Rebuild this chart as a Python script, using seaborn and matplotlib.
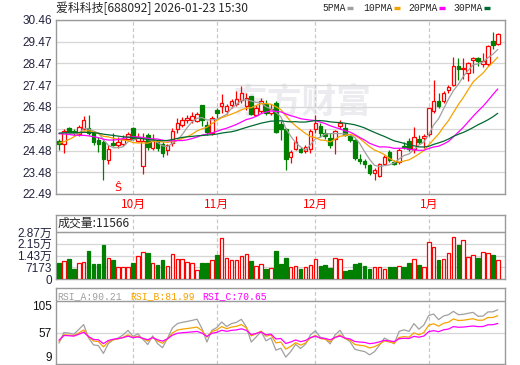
import numpy as np
import pandas as pd
import matplotlib
matplotlib.use('Agg')
import matplotlib.pyplot as plt
import seaborn as sns
from matplotlib.lines import Line2D

# ---- values ----
title = '爱科科技[688092] 2026-01-23 15:30'

# closes before the visible window (only needed to warm up the moving averages)
prior_close = [25.0, 25.2, 25.4, 25.3, 25.5, 25.4, 25.3, 25.5, 25.4, 25.4,
               25.6, 25.8, 25.9, 25.7, 25.9, 25.8, 25.6, 25.7, 25.5, 25.3,
               24.8, 24.3, 24.1, 24.2, 24.55, 25.1, 25.5, 25.4, 25.47]

open_ = [24.90, 24.78, 25.50, 25.38, 25.22, 25.45, 25.50, 25.30, 24.95, 24.85,
         24.05, 24.82, 24.75, 24.78, 25.02, 25.50, 24.90, 23.78, 25.20, 24.60,
         24.90, 24.80, 24.50, 24.82, 25.45, 25.65, 25.86, 25.90, 25.85, 26.55,
         25.65, 25.30, 26.35, 26.50, 26.30, 26.55, 26.60, 26.80, 26.52, 26.96,
         26.13, 26.30, 26.62, 26.22, 26.68, 25.70, 25.45, 24.20, 24.55, 24.55,
         24.48, 24.55, 25.45, 25.60, 25.28, 25.05, 25.02, 25.60, 25.50, 25.15,
         24.95, 24.08, 24.00, 23.80, 23.45, 23.32, 23.87, 24.42, 23.95, 23.95,
         24.70, 24.92, 24.56, 25.00, 25.06, 25.22, 26.28, 26.77, 26.77, 27.24,
         27.50, 28.36, 28.20, 28.05, 28.62, 28.74, 28.45, 28.45, 29.48, 29.35]
high = [25.02, 25.45, 25.58, 25.45, 25.65, 26.08, 26.10, 25.38, 25.10, 24.95,
        24.75, 25.30, 25.10, 25.20, 25.35, 25.58, 25.28, 25.28, 25.30, 25.25,
        24.98, 24.85, 24.80, 25.50, 25.95, 26.00, 26.10, 26.25, 26.25, 26.55,
        25.85, 26.05, 26.45, 27.05, 26.60, 26.85, 27.20, 27.43, 27.10, 27.00,
        26.55, 26.90, 26.80, 26.60, 26.75, 25.85, 25.50, 24.52, 25.15, 24.65,
        24.75, 25.45, 26.10, 25.75, 25.45, 25.30, 25.42, 25.90, 25.75, 25.25,
        25.00, 24.30, 24.10, 23.85, 23.70, 23.90, 24.28, 24.52, 24.05, 24.60,
        24.85, 25.05, 25.55, 25.20, 25.25, 26.45, 27.70, 27.10, 27.20, 27.50,
        28.77, 28.74, 28.74, 28.55, 28.77, 28.77, 28.97, 29.32, 29.89, 29.85]
low = [24.50, 24.38, 25.30, 25.20, 25.15, 25.40, 25.20, 24.75, 24.40, 23.14,
       23.85, 24.67, 24.60, 24.70, 24.95, 24.95, 24.85, 23.40, 24.50, 24.50,
       24.45, 24.18, 24.29, 24.70, 25.30, 25.55, 25.75, 25.75, 25.80, 25.60,
       25.20, 25.20, 25.95, 26.20, 26.15, 26.45, 26.50, 26.67, 26.35, 26.10,
       26.05, 26.20, 26.10, 26.10, 25.30, 24.95, 23.60, 23.90, 24.50, 24.35,
       24.35, 24.35, 25.30, 25.10, 25.00, 24.60, 24.30, 25.45, 25.15, 24.85,
       24.05, 23.85, 23.70, 23.38, 23.13, 23.28, 23.83, 23.95, 23.80, 23.85,
       24.55, 24.45, 24.36, 24.78, 24.60, 25.15, 26.20, 26.45, 26.68, 27.13,
       27.44, 27.70, 27.75, 27.67, 28.05, 28.35, 28.30, 28.36, 29.12, 29.30]
close = [24.78, 25.38, 25.35, 25.30, 25.55, 25.87, 25.30, 24.85, 24.80, 24.10,
         24.55, 24.75, 24.85, 25.00, 25.25, 25.00, 25.12, 24.90, 24.65, 24.98,
         24.60, 24.35, 24.72, 25.36, 25.75, 25.88, 25.96, 26.05, 26.15, 25.90,
         25.35, 25.98, 26.18, 26.68, 26.50, 26.74, 26.85, 27.12, 26.88, 26.15,
         26.42, 26.75, 26.22, 26.38, 25.35, 25.45, 24.10, 24.42, 24.88, 24.40,
         24.66, 25.36, 25.75, 25.28, 25.15, 24.75, 25.36, 25.75, 25.20, 24.95,
         24.15, 23.98, 23.86, 23.45, 23.58, 23.85, 24.20, 24.05, 23.87, 24.52,
         24.62, 24.56, 25.09, 24.88, 25.16, 26.41, 26.74, 26.50, 27.13, 27.39,
         28.35, 28.20, 28.28, 28.50, 28.70, 28.58, 28.60, 29.27, 29.30, 29.80]
volume = [10000, 11000, 12300, 6100, 10000, 10400, 17200, 9200, 9200, 20800,
          12700, 11600, 7600, 7200, 7200, 10000, 14100, 16600, 15800, 10000,
          8600, 11600, 8000, 15300, 12100, 12100, 10600, 10000, 5500, 10000,
          10000, 11600, 14700, 25100, 13100, 11600, 11600, 14100, 15500, 11000,
          8000, 9200, 6100, 6500, 17200, 9200, 12700, 7200, 8000, 5900,
          7600, 8400, 12100, 8000, 8600, 6500, 12700, 12100, 4900, 5500,
          9200, 9600, 8000, 6100, 7600, 7600, 5900, 7200, 7200, 8200,
          7600, 9600, 12100, 8600, 7200, 22500, 19400, 11600, 12100, 15800,
          25600, 20800, 23700, 13300, 14500, 12700, 16400, 15800, 14700, 11566]

# trading days shown per month: Sep, Oct, Nov, Dec, Jan
days_per_month = [15, 17, 20, 23, 15]
month_labels = ['10月', '11月', '12月', '1月']

price_ticks = [22.49, 23.48, 24.48, 25.48, 26.48, 27.47, 28.47, 29.47, 30.46]
vol_ticks = [0, 7173, 14346, 21519, 28692]
vol_tick_labels = ['0', '7173', '1.43万', '2.15万', '2.87万']
rsi_ticks = [9, 57, 105]
rsi_last = [90.21, 81.99, 70.65]
signal_day = 12

ma_periods = [5, 10, 20, 30]
ma_colors = ['#a0a0a0', '#f5a300', '#ff00ff', '#006a32']
rsi_periods = [6, 12, 24]
rsi_names = ['RSI_A', 'RSI_B', 'RSI_C']
rsi_colors = ['#a0a0a0', '#f5a300', '#ff00ff']

RED = '#ff0000'
GREEN = '#008000'
BORDER = '#9a9a9a'
GRID = '#d6d6d6'
TICK = '#23233f'

# ---- indicators ----
n_prior = len(prior_close)
all_close = pd.Series(prior_close + close)
x = np.arange(len(close))

ma_df = pd.DataFrame({'day': x})
for p in ma_periods:
    ma_df[f'{p}PMA'] = all_close.rolling(p).mean().iloc[n_prior:].to_numpy()
ma_long = ma_df.melt('day', var_name='line', value_name='price')

diff = all_close.diff().fillna(0)
rsi_df = pd.DataFrame({'day': x})
for name, n in zip(rsi_names, rsi_periods):
    gain = diff.clip(lower=0).ewm(alpha=1 / n, adjust=False).mean()
    move = diff.abs().ewm(alpha=1 / n, adjust=False).mean()
    rsi_df[name] = (gain / move * 100).iloc[n_prior:].to_numpy()
rsi_long = rsi_df.melt('day', var_name='line', value_name='rsi')

month_starts = np.cumsum(days_per_month)[:-1]

o = np.array(open_)
c = np.array(close)
up_day = c >= o
edge = np.where(up_day, RED, GREEN)
fill = np.where(up_day, 'white', GREEN)

# ---- figure ----
sns.set_style('white')
plt.rcParams['font.family'] = ['Liberation Sans', 'Noto Sans CJK SC', 'DejaVu Sans']
CJK = ['Noto Sans CJK SC', 'DejaVu Sans']
MONO = ['Liberation Mono', 'DejaVu Sans Mono']

W, H = 520, 365
fig = plt.figure(figsize=(W / 100, H / 100), dpi=100)


def box(l, t, r, b):
    return [l / W, 1 - b / H, (r - l) / W, (b - t) / H]


ax = fig.add_axes(box(56, 20, 505, 194))
axv = fig.add_axes(box(56, 215, 505, 279))
axr = fig.add_axes(box(56, 288, 505, 364))
xlim = (-0.61, 90.47)

for a in (ax, axv, axr):
    a.set_xlim(*xlim)
    for s in a.spines.values():
        s.set_color(BORDER)
        s.set_linewidth(1.0)
    for m in month_starts:
        a.axvline(m, color='#c8c8c8', lw=0.9, ls=(0, (3, 2)), zorder=1)
    a.tick_params(length=0, pad=3)

# price panel
ax.text(0.55, 0.53, '东方财富', transform=ax.transAxes, fontsize=25, fontweight='bold',
        color='#ececf0', ha='center', va='center', family=CJK, zorder=0)
ax.vlines(x, low, high, colors=edge, lw=0.9, zorder=3)
ax.bar(x, np.maximum(np.abs(c - o), 0.02), bottom=np.minimum(o, c), width=0.72,
       color=fill, edgecolor=edge, linewidth=0.9, zorder=4)
sns.lineplot(data=ma_long, x='day', y='price', hue='line',
             palette=dict(zip([f'{p}PMA' for p in ma_periods], ma_colors)),
             linewidth=0.9, legend=False, ax=ax, zorder=5)
ax.set_ylim(price_ticks[0], price_ticks[-1])
ax.set_yticks(price_ticks)
ax.set_yticklabels([f'{t:.2f}' for t in price_ticks], fontsize=8.5, color=TICK)
ax.yaxis.grid(True, color=GRID, lw=0.9, zorder=0)
ax.set_xticks(month_starts)
ax.set_xticklabels(month_labels, color=RED, fontsize=8.5, family=CJK)
ax.set_xlabel('')
ax.set_ylabel('')
ax.text(signal_day, 22.77, 'Ŝ', color=RED, fontsize=8, ha='center', va='center',
        family=['DejaVu Sans'], zorder=6)

# volume panel
vol_top = vol_ticks[-1]
axv.bar(x, volume, width=0.72, color=fill, edgecolor=edge, linewidth=0.9, zorder=3)
axv.set_ylim(0, vol_top * 64 / 47)
axv.set_yticks(vol_ticks)
axv.set_yticklabels(vol_tick_labels, fontsize=8.5, color=TICK)
axv.yaxis.grid(True, color=GRID, lw=0.9, zorder=0)
axv.axhline(vol_top, color=BORDER, lw=1.0, zorder=4)
axv.set_xticks([])
axv.text(0.004, (vol_top * 64 / 47 + vol_top) / 2 / (vol_top * 64 / 47),
         f'成交量:{volume[-1]}', transform=axv.transAxes, fontsize=8.6,
         family=CJK, ha='left', va='center')

# RSI panel
rsi_top = rsi_ticks[-1] + 13 / 63 * (rsi_ticks[-1] - rsi_ticks[0])
sns.lineplot(data=rsi_long, x='day', y='rsi', hue='line',
             palette=dict(zip(rsi_names, rsi_colors)),
             linewidth=0.9, legend=False, ax=axr, zorder=3)
axr.set_ylim(rsi_ticks[0], rsi_top)
axr.axhline(rsi_ticks[1], color=GRID, lw=0.9, zorder=1)
axr.axhline(rsi_ticks[-1], color=BORDER, lw=1.0, zorder=4)
axr.set_yticks(rsi_ticks)
axr.set_yticklabels([str(t) for t in rsi_ticks], fontsize=8.5, color='#111111')
lbls = axr.get_yticklabels()
lbls[0].set_va('bottom')
lbls[-1].set_va('top')
axr.set_xticks([])
axr.set_xlabel('')
axr.set_ylabel('')
hx = [57, 130, 202]
for name, val, col, px in zip(rsi_names, rsi_last, rsi_colors, hx):
    fig.text(px / W, 1 - 296 / H, f'{name}:{val:.2f}', color=col, fontsize=7,
             family=MONO, ha='left', va='center')

# title and legend
fig.text(56 / W, 1 - 8 / H, title, fontsize=8.6, family=CJK, ha='left', va='center')
leg_x = [322, 363, 408, 453]
for p, col, px in zip(ma_periods, ma_colors, leg_x):
    label = f'{p}PMA'
    fig.text(px / W, 1 - 8 / H, label, fontsize=7, family=MONO, ha='left', va='center')
    x0 = px + len(label) * 5.85 + 2
    fig.add_artist(Line2D([x0 / W, (x0 + 6) / W], [1 - 8 / H, 1 - 8 / H],
                          color=col, lw=2.4, solid_capstyle='butt'))

fig.savefig('out.png', dpi=100)
